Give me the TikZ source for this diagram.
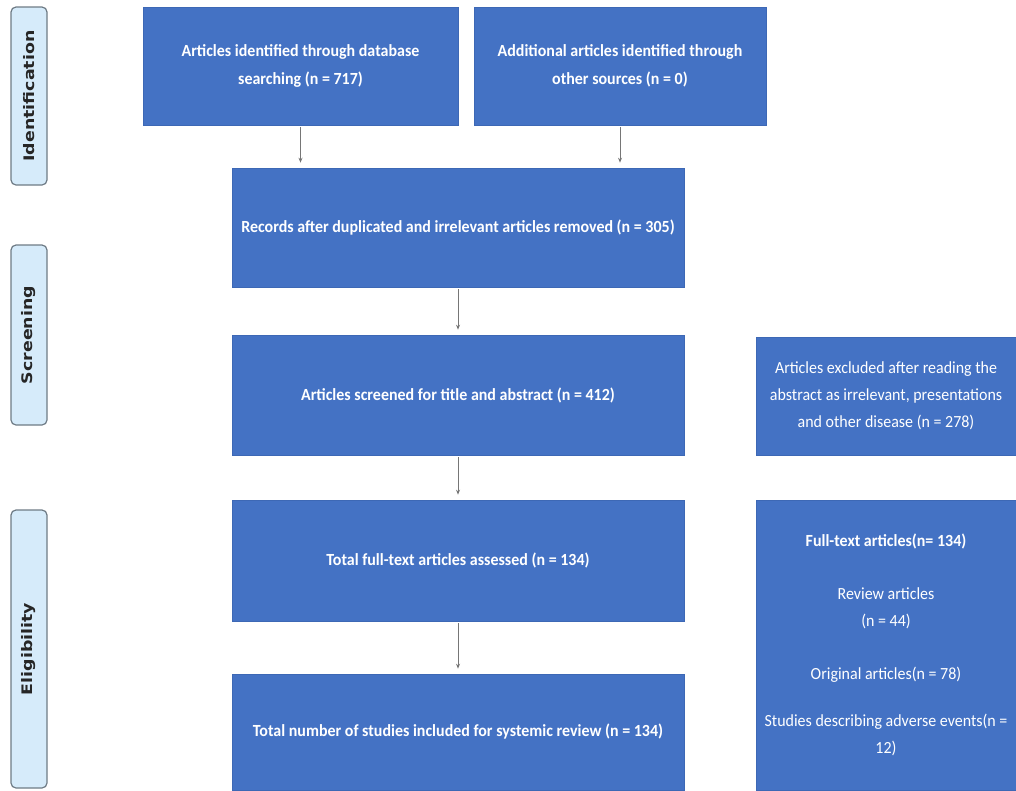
\documentclass[tikz,border=0pt]{standalone}
\usepackage{fontspec}
\setmainfont{Carlito}[FakeStretch=0.94]
\newfontfamily\phasefont{DejaVu Sans}[FakeStretch=1.2]
\usetikzlibrary{arrows.meta}
\definecolor{boxblue}{HTML}{4472C4}
\definecolor{boxedge}{HTML}{3D68B5}
\definecolor{phasefill}{HTML}{D6EBFA}
\definecolor{phaseedge}{HTML}{6E7B85}
\definecolor{arrowgray}{HTML}{767676}

\begin{document}
\begin{tikzpicture}[x=1pt, y=-1pt,
  flowbox/.style={draw=boxedge, line width=0.6pt, fill=boxblue, text=white, align=center, inner sep=4pt, font=\fontsize{17}{28.5}\selectfont\bfseries},
  sidebox/.style={flowbox, font=\fontsize{17}{27}\selectfont},
  phase/.style={draw=phaseedge, line width=1.2pt, fill=phasefill, rounded corners=5pt, rotate=90, minimum height=36pt, inner sep=0pt, text=black!85, font=\phasefont\fontsize{14.5}{16}\selectfont\bfseries},
  flow/.style={-{Stealth[length=5pt,width=4pt]}, arrowgray, line width=0.8pt, shorten >=5pt, shorten <=2pt}
]
\useasboundingbox (0,0) rectangle (1016,790);

% Phases
\node[phase, minimum width=178pt] (identification) at (29,96) {Identification};
\node[phase, minimum width=180pt] (screening) at (29,335) {Screening};
\node[phase, minimum width=278pt] (eligibility) at (29,649) {Eligibility};

% Identification
\node[flowbox, minimum width=315pt, minimum height=118pt] (database) at (300.5,66) {Articles identified through database\\ searching (n = 717)};
\node[flowbox, minimum width=292pt, minimum height=118pt] (other) at (620,66) {Additional articles identified through\\ other sources (n = 0)};

% Screening
\node[flowbox, minimum width=452pt, minimum height=119pt] (records) at (458,227.5) {Records after duplicated and irrelevant articles removed (n = 305)};
\node[flowbox, minimum width=452pt, minimum height=120pt] (screened) at (458,395) {Articles screened for title and abstract (n = 412)};
\node[sidebox, minimum width=260pt, minimum height=118pt] (excluded) at (886,396) {Articles excluded after reading the\\ abstract as irrelevant, presentations\\ and other disease (n = 278)};

% Eligibility
\node[flowbox, minimum width=452pt, minimum height=121pt] (assessed) at (458,560.5) {Total full-text articles assessed (n = 134)};
\node[flowbox, minimum width=452pt, minimum height=116pt] (included) at (458,732) {Total number of studies included for systemic review (n = 134)};
\node[sidebox, minimum width=260pt, minimum height=290pt] (fulltext) at (886,645) {\textbf{Full-text articles(n= 134)}\\[26pt] Review articles\\ (n = 44)\\[26pt] Original articles(n = 78)\\[20pt] Studies describing adverse events(n =\\ 12)};

% Arrows
\draw[flow] (database.south) -- (database.south |- records.north);
\draw[flow] (other.south) -- (other.south |- records.north);
\draw[flow] (records) -- (screened);
\draw[flow] (screened) -- (assessed);
\draw[flow] (assessed) -- (included);
\end{tikzpicture}
\end{document}
